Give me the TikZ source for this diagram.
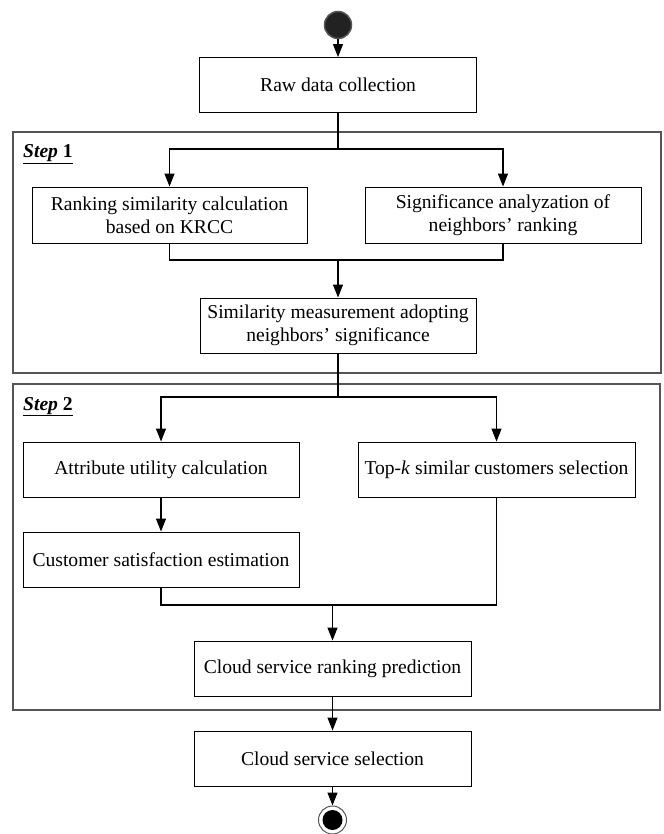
\documentclass[tikz,border=0pt]{standalone}
\usepackage{fontspec}
\setmainfont{Liberation Serif}
\usepackage{tikz}
\usetikzlibrary{arrows.meta}
\usepackage{xcolor}
\definecolor{frgray}{HTML}{555555}
\definecolor{dotfill}{HTML}{222222}
\tikzset{
  stepbox/.style={draw=black, line width=0.9pt, minimum width=276pt, minimum height=55pt,
    inner sep=2pt, align=center, font=\fontsize{19.6}{23}\selectfont},
  frame/.style={line width=1.3pt, draw=frgray},
  flowline/.style={line width=1.2pt, draw=black},
  flowarrow/.style={flowline, -{Triangle[length=13pt, width=10pt]}},
  steplabel/.style={anchor=base west, inner sep=0pt, font=\fontsize{19.6}{23}\selectfont\bfseries},
  startdot/.style={circle, minimum size=27pt, inner sep=0pt, fill=dotfill, draw=frgray, line width=1.5pt},
  enddot/.style={circle, minimum size=28pt, inner sep=0pt, draw=frgray, line width=1pt},
}
\begin{document}
\begin{tikzpicture}[x=1pt, y=-1pt]
  \useasboundingbox (0,0) rectangle (663,834);
  % step frames
  \draw[frame] (13,132) rectangle (661,373);
  \draw[frame] (13,384) rectangle (660,710);
  \node[steplabel] (lab1) at (23,158) {\underline{\textit{Step} 1}};
  \node[steplabel] (lab2) at (23,410) {\underline{\textit{Step} 2}};
  % start and end
  \node[startdot] (start) at (338,25) {};
  \node[enddot] (stop) at (332.5,820) {};
  \fill[black] (stop.center) circle (10pt);
  % boxes
  \node[stepbox, minimum width=277pt] (raw) at (338,85) {Raw data collection};
  \node[stepbox, minimum width=275pt, minimum height=56pt] (rank) at (169.5,215)
    {Ranking similarity calculation\\based on KRCC};
  \node[stepbox, minimum height=56pt] (signif) at (503,215)
    {Significance analyzation of\\neighbors' ranking};
  \node[stepbox] (simil) at (338,325.5)
    {Similarity measurement adopting\\neighbors' significance};
  \node[stepbox] (attr) at (161,469.5) {Attribute utility calculation};
  \node[stepbox, minimum width=277pt] (topk) at (496.5,469.5)
    {Top-\textit{k} similar customers selection};
  \node[stepbox] (cust) at (161,559.5) {Customer satisfaction estimation};
  \node[stepbox, minimum width=277pt] (crank) at (332.5,668.5) {Cloud service ranking prediction};
  \node[stepbox, minimum width=277pt] (select) at (332.5,758.5) {Cloud service selection};
  % branch points
  \coordinate (split1) at (338,149);
  \coordinate (join1) at (338,260);
  \coordinate (split2) at (338,397);
  \coordinate (join2) at (332.5,605);
  % connectors
  \draw[flowarrow] (start) -- (raw);
  \draw[flowline] (raw.south) -- (split1);
  \draw[flowarrow] (split1) -| (rank.north);
  \draw[flowarrow] (split1) -| (signif.north);
  \draw[flowline] (rank.south) |- (join1);
  \draw[flowline] (signif.south) |- (join1);
  \draw[flowarrow] (join1) -- (simil.north);
  \draw[flowline] (simil.south) -- (split2);
  \draw[flowarrow] (split2) -| (attr.north);
  \draw[flowarrow] (split2) -| (topk.north);
  \draw[flowarrow] (attr) -- (cust);
  \draw[flowline] (cust.south) |- (join2);
  \draw[flowline] (topk.south) |- (join2);
  \draw[flowarrow] (join2) -- (crank.north);
  \draw[flowarrow] (crank) -- (select);
  \draw[flowarrow] (select) -- (stop);
\end{tikzpicture}
\end{document}
